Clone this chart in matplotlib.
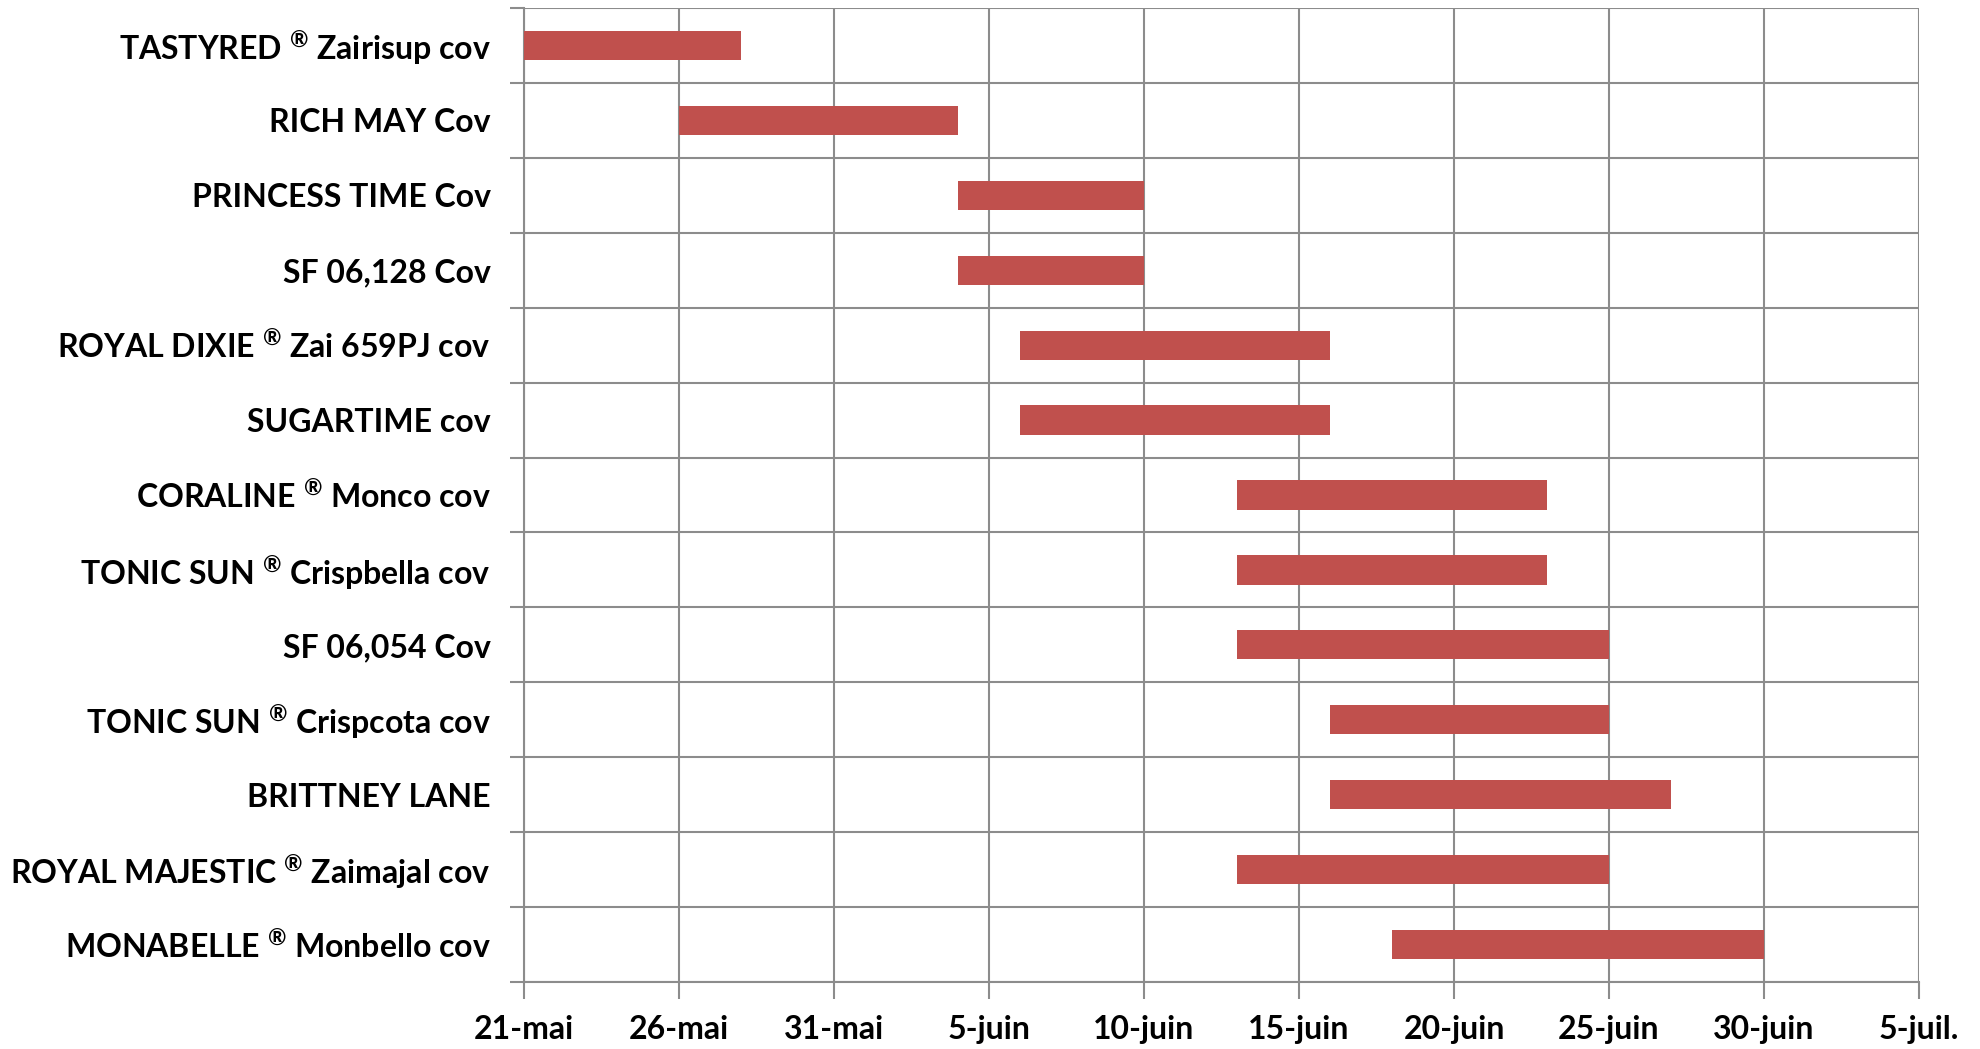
import matplotlib
matplotlib.use("Agg")
import matplotlib.pyplot as plt
import matplotlib.dates as mdates
import numpy as np
from datetime import date

# varieties in the order shown, top to bottom
VARIETIES = [
    "TASTYRED $^{®}$ Zairisup cov",
    "RICH MAY Cov",
    "PRINCESS TIME Cov",
    "SF 06,128 Cov",
    "ROYAL DIXIE $^{®}$ Zai 659PJ cov",
    "SUGARTIME cov",
    "CORALINE $^{®}$ Monco cov",
    "TONIC SUN $^{®}$ Crispbella cov",
    "SF 06,054 Cov",
    "TONIC SUN $^{®}$ Crispcota cov",
    "BRITTNEY LANE",
    "ROYAL MAJESTIC $^{®}$ Zaimajal cov",
    "MONABELLE $^{®}$ Monbello cov",
]
START = ["05-21", "05-26", "06-04", "06-04", "06-06", "06-06", "06-13",
         "06-13", "06-13", "06-16", "06-16", "06-13", "06-18"]
END = ["05-28", "06-04", "06-10", "06-10", "06-16", "06-16", "06-23",
       "06-23", "06-25", "06-25", "06-27", "06-25", "06-30"]

TICK_DATES = ["05-21", "05-26", "05-31", "06-05", "06-10", "06-15",
              "06-20", "06-25", "06-30", "07-05"]
TICK_LABELS = ["21-mai", "26-mai", "31-mai", "5-juin", "10-juin", "15-juin",
               "20-juin", "25-juin", "30-juin", "5-juil."]

YEAR = 2010


def to_num(s):
    m, d = s.split("-")
    return mdates.date2num(date(YEAR, int(m), int(d)))


FONT = "Lato"
plt.rcParams["font.family"] = [FONT, "DejaVu Sans"]
plt.rcParams["mathtext.fontset"] = "custom"
plt.rcParams["mathtext.rm"] = FONT + ":bold"
plt.rcParams["mathtext.it"] = FONT + ":bold"
plt.rcParams["mathtext.bf"] = FONT + ":bold"
plt.rcParams["mathtext.default"] = "rm"

GRID = "#8c8c8c"
BAR = "#C0504D"

fig = plt.figure(figsize=(19.81, 10.49), dpi=100)
ax = fig.add_axes([0.2645, 0.0639, 0.7042, 0.9285])

starts = np.array([to_num(s) for s in START])
ends = np.array([to_num(s) for s in END])
ypos = np.arange(len(VARIETIES))

ax.barh(ypos, ends - starts, left=starts, height=0.39, color=BAR, zorder=3)

ax.set_xlim(to_num(TICK_DATES[0]), to_num(TICK_DATES[-1]))
ax.set_ylim(len(VARIETIES) - 0.5, -0.5)

ax.set_xticks([to_num(t) for t in TICK_DATES])
ax.set_xticklabels(TICK_LABELS, fontsize=23, fontweight="bold")

# gridlines between categories, labels at centres
ax.set_yticks(np.arange(-0.5, len(VARIETIES), 1.0))
ax.set_yticklabels([])
ax.set_yticks(ypos, minor=True)
ax.set_yticklabels(VARIETIES, minor=True, fontsize=23, fontweight="bold")

ax.tick_params(axis="y", which="major", length=10, color=GRID, width=1.5)
ax.tick_params(axis="y", which="minor", length=0, pad=24)
ax.tick_params(axis="x", length=12, color=GRID, width=1.5, pad=12)

ax.grid(True, which="major", color=GRID, linewidth=1.5, zorder=0)
ax.set_axisbelow(True)
for side in ["top", "right"]:
    ax.spines[side].set_visible(False)
for side in ["left", "bottom"]:
    ax.spines[side].set_color(GRID)
    ax.spines[side].set_linewidth(1.5)

fig.savefig("out.png", dpi=100)
